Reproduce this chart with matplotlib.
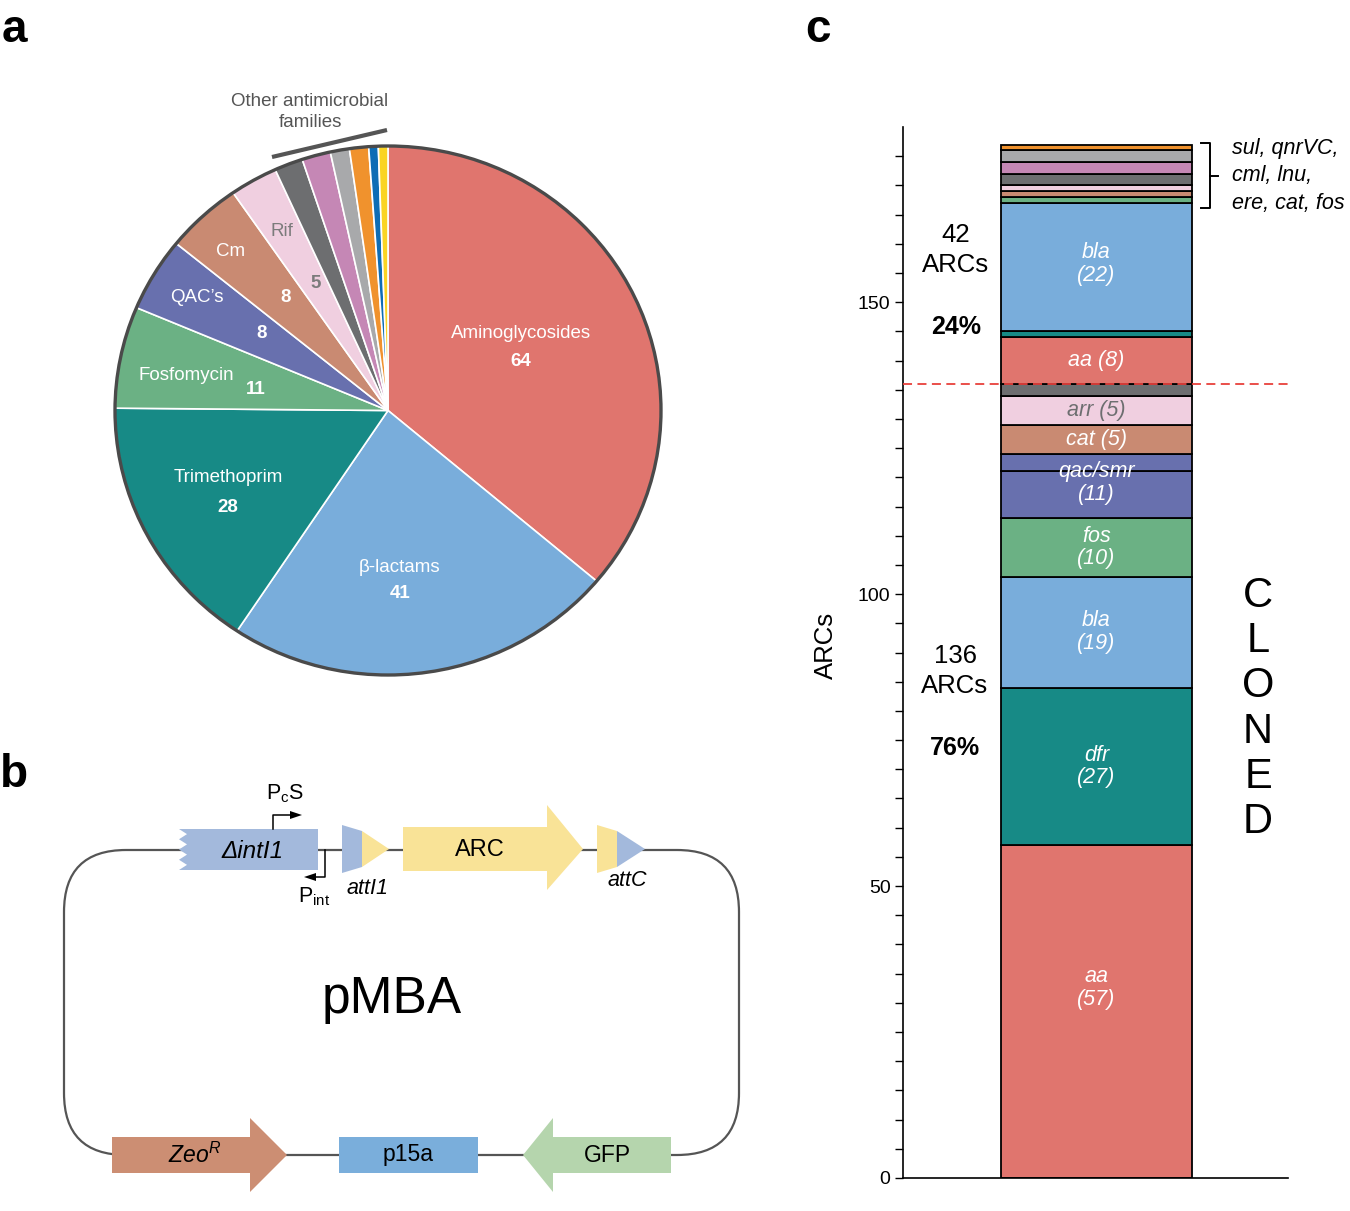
import numpy as np
import matplotlib
matplotlib.use('Agg')
import matplotlib.pyplot as plt
from matplotlib.patches import Polygon, Rectangle, FancyBboxPatch, Circle
from matplotlib.ticker import FixedLocator

plt.rcParams['font.family'] = ['Liberation Sans', 'DejaVu Sans']
plt.rcParams['mathtext.fontset'] = 'custom'
plt.rcParams['mathtext.rm'] = 'Liberation Sans'
plt.rcParams['mathtext.it'] = 'Liberation Sans:italic'

W, H = 1350, 1211

# ---- panel a: antimicrobial families (pie) ----
pie_names = ['Aminoglycosides', 'β-lactams', 'Trimethoprim', 'Fosfomycin',
             'QAC’s', 'Cm', 'Rif']
pie_values = [64, 41, 28, 11, 8, 8, 5, 3, 3, 2, 2, 1, 1]
pie_colors = ['#e0756e', '#79addb', '#178a86', '#6bb184', '#6870ae',
              '#c98a72', '#f0cfe0', '#6d6e70', '#c587b5', '#a8a9ab',
              '#f0922d', '#0e6db5', '#fad424']

# ---- panel c: cloned ARCs (stacked bar) ----
bar_values = [57, 27, 19, 10, 8, 3, 5, 5, 2, 8, 1, 22, 1, 1, 1, 2, 2, 2, 1]
bar_colors = ['#e0756e', '#178a86', '#79addb', '#6bb184', '#6870ae',
              '#6870ae', '#c98a72', '#f0cfe0', '#6d6e70', '#e0756e',
              '#178a86', '#79addb', '#6bb184', '#c98a72', '#f0cfe0',
              '#6d6e70', '#c587b5', '#a8a9ab', '#f0922d']
seg_text = ['aa\n(57)', 'dfr\n(27)', 'bla\n(19)', 'fos\n(10)',
            'qac/smr\n(11)', 'cat (5)', 'arr (5)', 'aa (8)', 'bla\n(22)']
seg_first = [0, 1, 2, 3, 4, 6, 7, 9, 11]
seg_last = [0, 1, 2, 3, 5, 6, 7, 9, 11]
seg_nudge = [4, 0, 0, 0, 0.5, 0, 0, 0, 0.5]
cloned = 136
not_cloned = 42


def px_rect(x0, y0, x1, y1):
    return [x0 / W, 1 - y1 / H, (x1 - x0) / W, (y1 - y0) / H]


fig = plt.figure(figsize=(W / 100, H / 100), dpi=100)

# pie
cx, cy, rx, ry = 388, 410.5, 273, 264.5
m = 1.05
axp = fig.add_axes(px_rect(cx - rx * m, cy - ry * m, cx + rx * m, cy + ry * m))
axp.pie(pie_values, colors=pie_colors, startangle=90, counterclock=False,
        radius=1, wedgeprops=dict(edgecolor='white', linewidth=1.2))
axp.add_patch(Circle((0, 0), 1, fill=False, ec='#4a4a4a', lw=2.4, zorder=5))
axp.set_aspect('auto')
axp.set_xlim(-m, m)
axp.set_ylim(-m, m)
axp.axis('off')

# bar
axb = fig.add_axes(px_rect(903, 127, 1288, 1178))
cum = np.concatenate([[0], np.cumsum(bar_values)])
for i, v in enumerate(bar_values):
    axb.bar(0.5026, v, bottom=cum[i], width=0.496, color=bar_colors[i],
            edgecolor='black', linewidth=1.3, zorder=2)
for t, f, l, dy in zip(seg_text, seg_first, seg_last, seg_nudge):
    col = '#6d6e70' if t.startswith('arr') else 'white'
    axb.text(0.5026, (cum[f] + cum[l + 1]) / 2 + dy, t, ha='center',
             va='center', fontsize=15.5, style='italic', color=col,
             linespacing=1.1, zorder=3)
axb.axhline(cloned, color='#e8413c', ls='--', lw=1.3, dashes=(5, 3), zorder=4)
axb.set_xlim(0, 1)
axb.set_ylim(0, 180)
axb.set_xticks([])
axb.set_yticks([0, 50, 100, 150])
axb.yaxis.set_minor_locator(FixedLocator([v for v in range(5, 180, 5) if v % 50]))
axb.tick_params(axis='y', which='both', direction='out', length=6, width=1,
                labelsize=14, pad=3)
for s in ['top', 'right']:
    axb.spines[s].set_visible(False)
for s in ['left', 'bottom']:
    axb.spines[s].set_linewidth(1.2)

# overlay in pixel coordinates for labels and diagram
ov = fig.add_axes([0, 0, 1, 1])
ov.set_xlim(0, W)
ov.set_ylim(H, 0)
ov.axis('off')

# panel letters
for letter, x, y in [('a', 14, 30), ('b', 14, 775), ('c', 818, 30)]:
    ov.text(x, y, letter, fontsize=33, fontweight='bold', ha='center',
            va='center')

# pie labels
name_pos = [(521, 334), (400, 568), (228, 477), (186, 375), (197, 297),
            (231, 251), (282, 231)]
num_pos = [(521, 362), (400, 594), (228, 507), (256, 390), (262, 333),
           (286, 297), (316, 284)]
for i, name in enumerate(pie_names):
    col = '#7b7b7b' if name == 'Rif' else 'white'
    ov.text(*name_pos[i], name, ha='center', va='center', fontsize=13.5,
            color=col)
    ov.text(*num_pos[i], str(pie_values[i]), ha='center', va='center',
            fontsize=13.5, fontweight='bold', color=col)
ov.plot([272, 387], [157, 130], color='#555555', lw=3, solid_capstyle='butt')
ov.text(310, 112, 'Other antimicrobial\nfamilies', ha='center', va='center',
        fontsize=13.5, color='#555555', linespacing=1.3)

# panel c texts
ov.text(826, 645, 'ARCs', rotation=90, ha='center', va='center', fontsize=18.5)
ov.text(956, 250, f'{not_cloned}\nARCs', ha='center', va='center',
        fontsize=18.5, linespacing=1.3)
ov.text(956, 327, '24%', ha='center', va='center', fontsize=18,
        fontweight='bold')
ov.text(955, 671, f'{cloned}\nARCs', ha='center', va='center', fontsize=18.5,
        linespacing=1.3)
ov.text(955, 748, '76%', ha='center', va='center', fontsize=18,
        fontweight='bold')
ov.text(1258, 709, 'C\nL\nO\nN\nE\nD', ha='center', va='center', fontsize=30,
        linespacing=1.17)
ov.plot([1201, 1210, 1210, 1201], [143, 143, 208, 208], color='k', lw=1.4)
ov.plot([1210, 1218], [176, 176], color='k', lw=1.4)
ov.text(1232, 176, 'sul, qnrVC,\ncml, lnu,\nere, cat, fos', ha='left',
        va='center', fontsize=15.5, style='italic', linespacing=1.4)

# panel b: plasmid diagram
ov.add_patch(FancyBboxPatch((64, 850), 675, 305,
                            boxstyle='round,pad=0,rounding_size=62',
                            fill=False, ec='#555555', lw=1.6, zorder=1))

# delta intI1 with jagged left edge
zy = np.linspace(870, 829, 9)
zx = [179 if k % 2 == 0 else 187 for k in range(9)]
ov.add_patch(Polygon([(318, 829), (318, 870)] + list(zip(zx, zy)),
                     closed=True, fc='#a3b9dc', ec='none', zorder=2))
ov.text(253, 851, 'ΔintI1', ha='center', va='center', fontsize=17.5,
        style='italic', zorder=3)

# promoters
ov.plot([273, 273, 292], [829, 815, 815], color='k', lw=1.1, zorder=3)
ov.add_patch(Polygon([(290, 811), (302, 815), (290, 819)], fc='k', zorder=3))
ov.text(285, 794, r'P$_{\rm c}$S', ha='center', va='center', fontsize=15.5)
ov.plot([325, 325, 314], [850, 877, 877], color='k', lw=1.1, zorder=3)
ov.add_patch(Polygon([(316, 873), (304, 877), (316, 881)], fc='k', zorder=3))
ov.text(314, 897, r'P$_{\rm int}$', ha='center', va='center', fontsize=15.5)

# attI1
ov.add_patch(Polygon([(342, 825), (362, 831), (362, 867), (342, 873)],
                     fc='#a3b9dc', ec='none', zorder=2))
ov.add_patch(Polygon([(362, 831), (389, 849), (362, 867)], fc='#f9e397',
                     ec='none', zorder=2))
ov.text(368, 888, 'attI1', ha='center', va='center', fontsize=15.5,
        style='italic')

# ARC
ov.add_patch(Polygon([(403, 827), (547, 827), (547, 805), (583, 849),
                      (547, 890), (547, 871), (403, 871)],
                     fc='#f9e397', ec='none', zorder=2))
ov.text(480, 850, 'ARC', ha='center', va='center', fontsize=17, zorder=3)

# attC
ov.add_patch(Polygon([(597, 825), (617, 831), (617, 867), (597, 873)],
                     fc='#f9e397', ec='none', zorder=2))
ov.add_patch(Polygon([(617, 831), (645, 849), (617, 867)], fc='#a3b9dc',
                     ec='none', zorder=2))
ov.text(627, 881, 'attC', ha='center', va='center', fontsize=15.5,
        style='italic')

ov.text(392, 1000, 'pMBA', ha='center', va='center', fontsize=37)

# bottom genes
yb = 1155
ov.add_patch(Polygon([(112, yb - 18), (250, yb - 18), (250, yb - 37),
                      (287, yb), (250, yb + 37), (250, yb + 18),
                      (112, yb + 18)], fc='#cc8e73', ec='none', zorder=2))
ov.text(195, yb, r'$Zeo^{R}$', ha='center', va='center', fontsize=16.5,
        zorder=3)
ov.add_patch(Rectangle((339, yb - 18), 139, 36, fc='#7aaedb', ec='none',
                       zorder=2))
ov.text(408, yb, 'p15a', ha='center', va='center', fontsize=16.5, zorder=3)
ov.add_patch(Polygon([(671, yb - 18), (553, yb - 18), (553, yb - 37),
                      (523, yb), (553, yb + 37), (553, yb + 18),
                      (671, yb + 18)], fc='#b5d5ad', ec='none', zorder=2))
ov.text(607, yb, 'GFP', ha='center', va='center', fontsize=16.5, zorder=3)

fig.savefig('out.png', dpi=100)
